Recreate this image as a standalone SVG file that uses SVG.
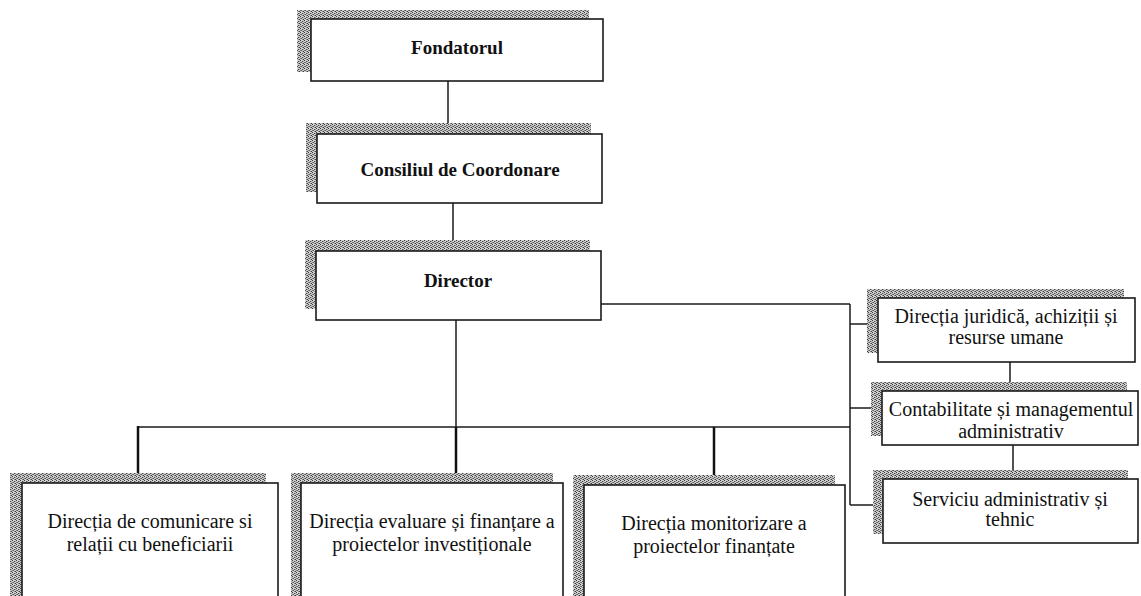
<svg xmlns="http://www.w3.org/2000/svg" width="1141" height="596" viewBox="0 0 1141 596">
  <defs>
    <pattern id="stip" width="4" height="4" patternUnits="userSpaceOnUse">
      <rect width="4" height="4" fill="#cfcfcf"/>
      <rect x="0" y="0" width="1" height="1" fill="#3a3a3a"/>
      <rect x="2" y="1" width="1" height="1" fill="#4a4a4a"/>
      <rect x="1" y="2" width="1" height="1" fill="#5a5a5a"/>
      <rect x="3" y="3" width="1" height="1" fill="#3a3a3a"/>
      <rect x="2" y="3" width="1" height="1" fill="#8a8a8a"/>
      <rect x="0" y="2" width="1" height="1" fill="#7a7a7a"/>
      <rect x="3" y="1" width="1" height="1" fill="#9a9a9a"/>
    </pattern>
    <style>
      .sh { fill: url(#stip); stroke: none; }
      .bx { fill: #fff; stroke: #1a1a1a; stroke-width: 1.6; }
      .tb { font-family: "Liberation Serif", "Times New Roman", serif; font-size: 19px; font-weight: bold; fill: #111; text-anchor: middle; }
      .tn { font-family: "Liberation Serif", "Times New Roman", serif; font-size: 20px; fill: #111; text-anchor: middle; }
      .ln { stroke: #1a1a1a; stroke-width: 1.5; fill: none; }
      .lk { stroke: #111; stroke-width: 2.5; fill: none; }
    </style>
  </defs>

  <g id="connectors">
    <line class="ln" x1="448" y1="81" x2="448" y2="124"/>
    <line class="ln" x1="453" y1="203" x2="453" y2="240"/>
    <line class="ln" x1="456" y1="320" x2="456" y2="473"/>
    <line class="ln" x1="138" y1="427" x2="850" y2="427"/>
    <line class="lk" x1="138" y1="426" x2="138" y2="473"/>
    <line class="lk" x1="456" y1="427" x2="456" y2="473"/>
    <line class="lk" x1="714" y1="427" x2="714" y2="478"/>
    <line class="ln" x1="601" y1="304" x2="850" y2="304"/>
    <line class="ln" x1="850" y1="304" x2="850" y2="505"/>
    <line class="ln" x1="850" y1="324" x2="867" y2="324"/>
    <line class="ln" x1="850" y1="408" x2="871" y2="408"/>
    <line class="ln" x1="850" y1="505" x2="873" y2="505"/>
    <line class="ln" x1="1010" y1="362" x2="1010" y2="382"/>
    <line class="ln" x1="1013" y1="445" x2="1013" y2="470"/>
  </g>

  <g id="fondatorul">
    <rect class="sh" x="297" y="10" width="292" height="62"/>
    <rect class="bx" x="311" y="19" width="292" height="62"/>
    <text class="tb" x="457" y="54">Fondatorul</text>
  </g>

  <g id="consiliul">
    <rect class="sh" x="306" y="123" width="285" height="69"/>
    <rect class="bx" x="317" y="134" width="285" height="69"/>
    <text class="tb" x="460" y="176">Consiliul de Coordonare</text>
  </g>

  <g id="director">
    <rect class="sh" x="305" y="240" width="285" height="69"/>
    <rect class="bx" x="316" y="251" width="285" height="69"/>
    <text class="tb" x="458" y="287">Director</text>
  </g>

  <g id="juridica">
    <rect class="sh" x="867" y="289" width="257" height="64"/>
    <rect class="bx" x="878" y="298" width="257" height="64"/>
    <text class="tn" x="1006" y="323">Direcția juridică, achiziții și</text>
    <text class="tn" x="1006" y="344">resurse umane</text>
  </g>

  <g id="contabilitate">
    <rect class="sh" x="871" y="382" width="256" height="54"/>
    <rect class="bx" x="882" y="391" width="256" height="54"/>
    <text class="tn" x="1011" y="416">Contabilitate și managementul</text>
    <text class="tn" x="1011" y="438">administrativ</text>
  </g>

  <g id="serviciu">
    <rect class="sh" x="873" y="470" width="255" height="64"/>
    <rect class="bx" x="883" y="479" width="255" height="64"/>
    <text class="tn" x="1010" y="506">Serviciu administrativ  și</text>
    <text class="tn" x="1010" y="526">tehnic</text>
  </g>

  <g id="comunicare">
    <rect class="sh" x="10" y="473" width="256" height="140"/>
    <rect class="bx" x="22" y="483" width="256" height="140"/>
    <text class="tn" x="150" y="528">Direcția de comunicare si</text>
    <text class="tn" x="150" y="551">relații cu beneficiarii</text>
  </g>

  <g id="evaluare">
    <rect class="sh" x="291" y="473" width="262" height="140"/>
    <rect class="bx" x="301" y="483" width="262" height="140"/>
    <text class="tn" x="432" y="528">Direcția evaluare  și finanțare a</text>
    <text class="tn" x="432" y="551">proiectelor  investiționale</text>
  </g>

  <g id="monitorizare">
    <rect class="sh" x="573" y="475" width="262" height="140"/>
    <rect class="bx" x="584" y="485" width="261" height="140"/>
    <text class="tn" x="714" y="530">Direcția monitorizare a</text>
    <text class="tn" x="714" y="553">proiectelor finanțate</text>
  </g>
</svg>
